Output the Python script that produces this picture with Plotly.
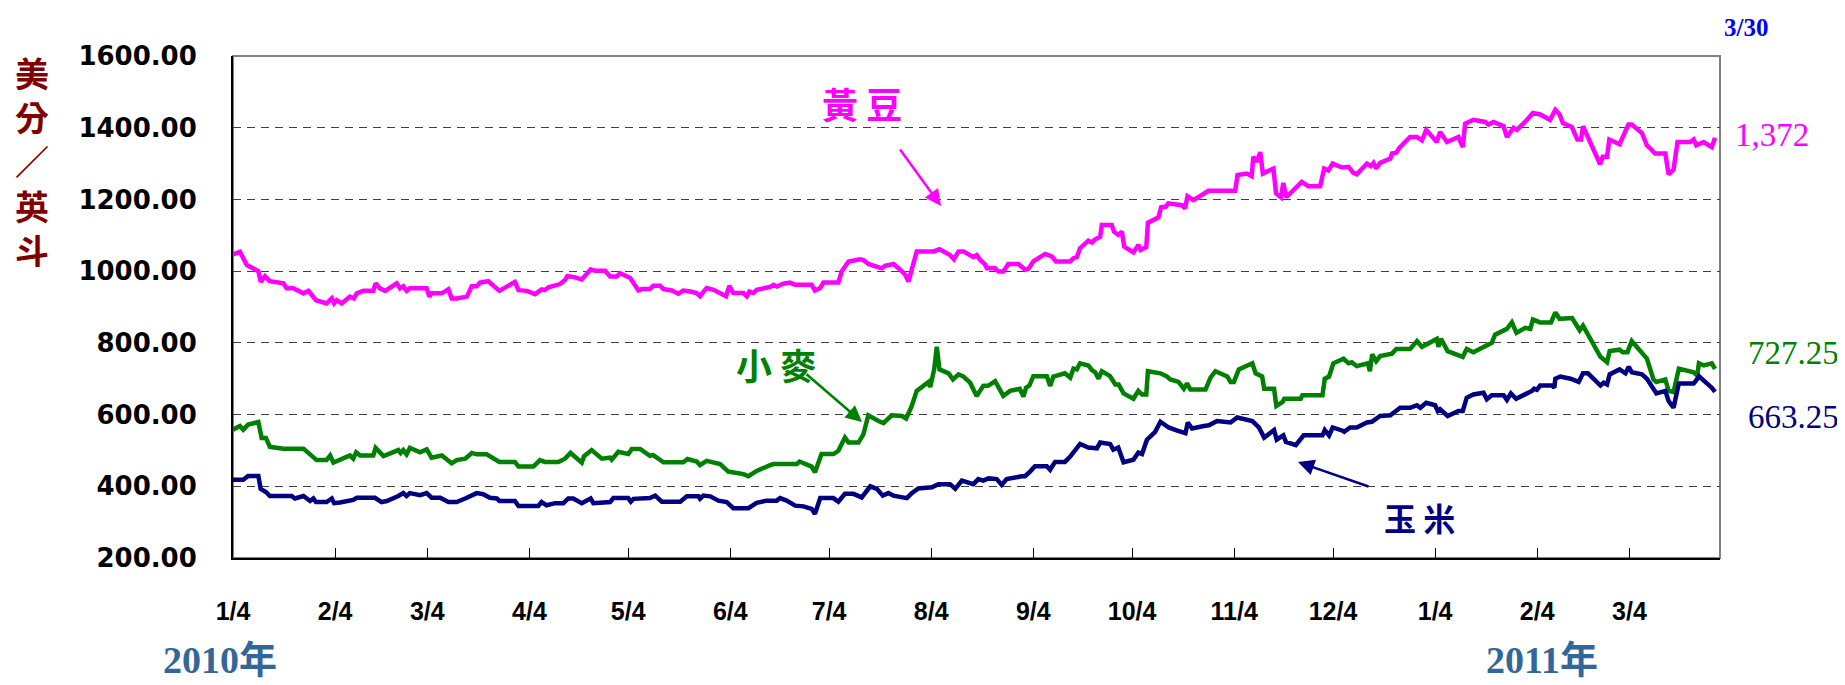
import pandas as pd
import plotly.graph_objects as go

# days counted from 2010-01-04, values in US cents per bushel
START = "2010-01-04"

soy_day = [0, 2.1, 4.2, 7.7, 8.4, 9.7, 11.2, 15.3, 16.3, 18.3, 21.4, 22.9, 25.2, 28.4, 30.0, 30.7, 31.5, 33.0,
           35.5, 36.7, 37.6, 39.6, 42.6, 43.3, 44.6, 46.2, 49.7, 50.7, 51.7, 52.7, 53.7, 58.8, 59.6, 60.3, 63.4,
           65.4, 66.4, 67.9, 71.0, 72.5, 74.0, 75.0, 77.5, 79.1, 80.9, 85.6, 86.7, 89.2, 91.7, 93.7, 94.7, 95.8,
           99.3, 100.8, 101.5, 103.3, 105.9, 108.6, 109.9, 113.0, 114.5, 116.5, 117.5, 120.6, 123.1, 124.1, 126.6,
           127.6, 129.7, 130.7, 133.2, 135.2, 136.7, 138.8, 140.8, 141.8, 143.8, 145.9, 147.9, 149.7, 150.7, 151.9,
           155.0, 156.0, 156.8, 158.0, 159.0, 163.1, 164.1, 165.1, 167.1, 169.1, 170.7, 175.7, 176.7, 178.3, 179.3,
           183.8, 184.8, 186.9, 190.4, 191.4, 192.9, 197.0, 198.0, 200.5, 202.6, 204.1, 205.1, 205.6, 207.6, 212.7,
           214.5, 217.7, 218.9, 220.3, 221.8, 224.8, 225.8, 226.8, 228.4, 228.9, 231.4, 232.4, 233.9, 235.4, 238.5,
           240.5, 241.5, 243.0, 246.6, 248.6, 249.9, 254.2, 255.2, 256.2, 257.2, 259.7, 260.8, 261.8, 263.3, 263.8,
           266.8, 267.5, 268.8, 269.9, 270.6, 273.4, 274.9, 275.6, 277.3, 277.8, 281.0, 281.8, 283.3, 284.0, 288.1,
           289.1, 289.8, 291.6, 294.7, 296.2, 304.3, 305.0, 307.8, 309.3, 309.8, 310.9, 311.9, 312.7, 315.9, 316.7,
           318.2, 318.9, 319.8, 321.5, 324.5, 326.5, 330.1, 331.3, 332.6, 333.9, 336.7, 338.7, 340.2, 341.2, 344.3,
           345.5, 346.3, 347.1, 348.3, 351.4, 351.9, 353.2, 354.2, 357.4, 359.5, 361.0, 362.3, 365.5, 366.5, 368.6,
           372.1, 373.4, 374.1, 376.6, 380.2, 381.2, 382.7, 385.8, 386.8, 388.8, 389.8, 392.3, 394.7, 396.9, 399.9,
           401.5, 402.8, 403.8, 406.5, 408.2, 409.3, 409.9, 415.1, 415.9, 417.2, 417.9, 421.0, 423.7, 424.7, 427.8,
           429.3, 430.1, 431.8, 434.9, 435.9, 437.4, 438.6, 442.5, 443.5, 444.3, 446.5, 449.0, 450.0]
soy_val = [1047, 1054, 1017, 1000, 970, 986, 972, 966, 952, 952, 938, 945, 919, 910, 924, 910, 919, 910,
           929, 924, 938, 945, 945, 966, 952, 945, 966, 952, 958, 945, 952, 952, 929, 938, 938,
           949, 924, 924, 929, 958, 958, 968, 972, 961, 945, 970, 947, 945, 936, 949, 947, 955,
           964, 975, 986, 984, 977, 1005, 1001, 1001, 985, 985, 994, 981, 946, 950, 950,
           959, 959, 950, 946, 937, 946, 943, 939, 930, 953, 948, 939, 930, 959, 939,
           939, 930, 943, 939, 948, 956, 962, 957, 965, 968, 962, 962, 946, 953, 968,
           968, 999, 1027, 1033, 1031, 1020, 1008, 1015, 1020, 1004, 990, 971, 990, 1055, 1055,
           1061, 1045, 1033, 1055, 1055, 1039, 1045, 1032, 1018, 1008, 1008, 999, 999, 1020, 1020,
           1004, 1006, 1027, 1048, 1041, 1027, 1027, 1036, 1039, 1064, 1085, 1080, 1089, 1096, 1129,
           1129, 1110, 1101, 1110, 1068, 1052, 1073, 1059, 1067, 1135, 1150, 1178, 1180, 1189, 1184,
           1175, 1209, 1198, 1215, 1224, 1224, 1268, 1272, 1265, 1319, 1305, 1332, 1272, 1286, 1217,
           1206, 1246, 1206, 1221, 1249, 1237, 1237, 1286, 1281, 1300, 1289, 1291, 1274, 1270, 1300,
           1293, 1302, 1286, 1302, 1314, 1328, 1330, 1344, 1374, 1374, 1365, 1394, 1360, 1388, 1360,
           1374, 1346, 1411, 1422, 1416, 1409, 1416, 1404, 1374, 1400, 1394, 1416, 1441, 1437, 1422,
           1450, 1437, 1413, 1402, 1367, 1367, 1404, 1298, 1319, 1319, 1367, 1354, 1409, 1409, 1385,
           1351, 1344, 1328, 1328, 1270, 1283, 1360, 1360, 1367, 1351, 1360, 1346, 1372]

wheat_day = [0, 2.1, 3.1, 4.6, 7.7, 8.7, 10.0, 11.2, 15.3, 21.4, 23.4, 25.4, 28.4, 29.5, 30.5, 32.5, 35.5,
             36.5, 37.4, 38.6, 42.6, 43.3, 45.7, 50.2, 50.9, 51.7, 52.7, 53.7, 56.8, 58.8, 60.3, 63.4, 66.4,
             67.9, 70.5, 72.5, 74.0, 77.0, 78.0, 80.9, 85.6, 86.7, 91.2, 93.2, 94.7, 98.8, 100.8, 102.5, 105.9,
             106.6, 108.9, 112.0, 114.5, 115.0, 117.0, 120.0, 121.1, 123.6, 126.6, 127.6, 128.7, 130.7, 136.7,
             138.0, 140.8, 141.8, 143.8, 147.9, 150.4, 155.0, 156.5, 159.0, 163.1, 164.1, 171.2, 172.0, 175.7,
             176.7, 178.7, 182.3, 183.8, 185.8, 186.9, 189.9, 191.4, 192.9, 196.0, 197.5, 200.0, 203.1, 204.4,
             206.1, 207.6, 210.1, 211.2, 211.7, 212.9, 213.7, 214.5, 217.3, 218.6, 220.3, 221.8, 223.8, 225.8,
             227.8, 229.4, 231.4, 233.9, 235.9, 238.9, 240.0, 240.8, 241.8, 243.0, 247.1, 248.1, 249.1, 252.6,
             254.2, 255.2, 256.2, 257.2, 259.7, 260.8, 261.8, 262.8, 263.8, 266.3, 267.9, 268.9, 270.4, 273.4,
             274.9, 276.0, 277.3, 277.8, 281.6, 283.6, 284.6, 287.1, 288.7, 289.7, 290.7, 295.3, 296.8, 298.3,
             301.9, 302.9, 303.9, 305.4, 309.5, 310.5, 312.5, 313.1, 316.1, 316.8, 318.7, 319.2, 324.2, 324.7,
             330.8, 331.5, 332.8, 334.1, 337.2, 338.7, 339.7, 341.2, 344.6, 345.2, 345.9, 347.1, 348.3, 351.9,
             353.2, 357.4, 359.5, 361.0, 365.5, 366.0, 366.8, 368.8, 373.4, 374.6, 376.6, 380.7, 382.2, 383.2,
             385.8, 386.8, 388.3, 389.7, 392.4, 393.9, 394.7, 396.9, 400.2, 401.5, 402.8, 406.6, 408.9, 409.9,
             415.2, 417.2, 418.0, 421.0, 422.0, 423.4, 424.7, 427.8, 429.3, 431.3, 432.2, 434.9, 435.9, 437.4,
             439.0, 443.5, 444.6, 445.1, 446.6, 449.0, 450.0]
wheat_val = [558, 568, 558, 572, 579, 535, 535, 510, 505, 505, 489, 473, 473, 486, 466, 473, 486,
             477, 495, 486, 486, 507, 484, 501, 493, 501, 489, 507, 495, 503, 480, 486, 464,
             473, 477, 493, 489, 489, 484, 468, 468, 455, 455, 473, 468, 468, 477, 493, 466,
             484, 501, 477, 480, 474, 496, 490, 504, 504, 485, 487, 480, 467, 467,
             476, 469, 459, 471, 462, 441, 434, 428, 443, 459, 462, 462, 469, 455,
             439, 490, 490, 499, 536, 522, 522, 545, 598, 582, 576, 598, 596, 589,
             624, 666, 684, 691, 677, 726, 789, 726, 715, 698, 712, 706, 689, 652,
             680, 681, 693, 652, 666, 672, 650, 675, 681, 707, 707, 680, 706, 715,
             703, 728, 726, 743, 737, 724, 718, 700, 721, 707, 684, 684, 659, 644,
             666, 656, 656, 721, 715, 706, 698, 691, 672, 687, 670, 670, 703, 721,
             706, 691, 691, 726, 743, 715, 706, 672, 672, 624, 635, 644, 644, 654,
             654, 700, 706, 743, 756, 743, 746, 735, 743, 721, 768, 749, 763, 770,
             783, 783, 805, 789, 811, 789, 811, 777, 761, 783, 774, 795, 800, 823,
             835, 839, 857, 828, 842, 839, 865, 857, 857, 885, 867, 869, 835, 848,
             761, 746, 777, 781, 774, 774, 805, 772, 756, 698, 691, 698, 666, 663,
             728, 718, 709, 743, 737, 743, 727.25]

corn_day = [0, 3.1, 4.6, 7.7, 8.4, 10.0, 11.2, 17.8, 18.8, 21.4, 23.4, 24.4, 25.2, 28.4, 30.0, 30.7, 32.5,
            36.5, 37.6, 43.1, 45.1, 46.7, 50.2, 51.7, 52.7, 53.7, 56.8, 58.8, 60.3, 62.9, 65.4, 67.9, 70.5,
            72.0, 74.0, 76.0, 78.0, 80.1, 80.9, 85.6, 86.7, 92.7, 93.7, 95.2, 97.8, 100.3, 101.8, 103.3, 105.9,
            108.6, 109.4, 111.4, 114.5, 115.5, 120.0, 120.8, 121.6, 126.6, 128.2, 130.2, 135.8, 137.8, 141.3,
            141.8, 142.8, 144.9, 147.4, 149.9, 151.9, 156.5, 159.0, 162.0, 165.1, 166.1, 168.1, 170.7, 173.2,
            175.7, 176.7, 178.3, 182.3, 183.8, 185.8, 188.4, 190.9, 193.5, 195.5, 197.3, 199.0, 200.5, 204.6,
            206.1, 208.1, 212.2, 214.2, 217.7, 219.3, 221.3, 223.8, 224.8, 226.3, 227.8, 229.4, 231.9, 233.4,
            234.9, 239.5, 240.5, 242.0, 243.5, 247.1, 248.1, 249.6, 252.6, 254.2, 255.2, 257.2, 259.7, 262.3,
            263.3, 266.3, 267.3, 268.8, 270.4, 273.4, 274.9, 276.0, 277.5, 280.0, 281.6, 284.1, 286.7, 289.2,
            289.9, 291.2, 294.8, 296.3, 298.8, 301.4, 302.9, 304.9, 306.9, 309.5, 311.5, 313.1, 316.1, 316.9,
            318.9, 319.7, 322.7, 325.1, 330.8, 331.5, 332.8, 333.9, 336.9, 337.4, 339.2, 341.2, 344.3, 345.8,
            348.3, 351.4, 354.4, 357.4, 359.5, 360.5, 362.3, 365.0, 365.8, 366.5, 368.8, 372.1, 373.4, 374.6,
            376.6, 379.7, 380.7, 382.2, 385.8, 386.8, 388.0, 389.6, 394.4, 395.1, 395.9, 396.9, 400.5, 401.2,
            401.5, 403.0, 406.1, 408.6, 409.9, 411.4, 415.2, 416.2, 417.2, 418.0, 421.0, 422.8, 423.8, 424.7,
            427.8, 429.3, 432.2, 434.9, 435.9, 437.4, 439.0, 443.5, 444.1, 445.1, 449.0, 450.0]
corn_val = [418, 418, 429, 429, 393, 384, 373, 373, 366, 373, 359, 366, 356, 356, 366, 353, 355,
            362, 368, 368, 356, 359, 373, 381, 373, 381, 375, 381, 368, 368, 356, 356, 366,
            371, 381, 378, 368, 366, 359, 359, 345, 345, 356, 347, 353, 353, 366, 366, 353,
            366, 353, 354, 356, 367, 367, 357, 365, 367, 374, 357, 357, 372, 372,
            365, 374, 372, 360, 356, 339, 339, 354, 360, 360, 367, 360, 346, 344,
            337, 323, 367, 367, 357, 379, 379, 369, 400, 393, 374, 381, 374, 367,
            381, 394, 397, 406, 406, 393, 416, 411, 406, 420, 416, 422, 420, 404,
            420, 428, 428, 441, 456, 456, 446, 468, 468, 483, 494, 518, 508, 506,
            522, 518, 502, 508, 467, 474, 494, 490, 530, 552, 580, 564, 555, 548,
            578, 561, 568, 570, 582, 578, 578, 592, 589, 582, 564, 536, 557, 530,
            542, 524, 515, 542, 542, 557, 542, 564, 555, 552, 564, 564, 578, 580,
            596, 598, 619, 619, 626, 619, 633, 626, 610, 615, 596, 610, 610, 647,
            656, 661, 643, 654, 654, 641, 659, 644, 666, 672, 669, 681, 681, 675,
            700, 706, 700, 691, 715, 715, 681, 689, 684, 712, 726, 715, 733, 718,
            712, 700, 659, 666, 638, 619, 687, 687, 693, 707, 675, 663.25]

tick_dates = ["2010-01-04", "2010-02-04", "2010-03-04", "2010-04-04", "2010-05-04", "2010-06-04",
              "2010-07-04", "2010-08-04", "2010-09-04", "2010-10-04", "2010-11-04", "2010-12-04",
              "2011-01-04", "2011-02-04", "2011-03-04"]
tick_labels = ["1/4", "2/4", "3/4", "4/4", "5/4", "6/4", "7/4", "8/4", "9/4", "10/4", "11/4", "12/4",
               "1/4", "2/4", "3/4"]

SOY_C, WHEAT_C, CORN_C = "#FF00FF", "#008000", "#000080"

# page has an 8px body margin, so the figure is a bit smaller and shifted
OFF = 8
W, H = 1837, 677
L, R, T, B = 225, 125, 48, 127


def px(x, y):
    # page pixel -> paper coords
    fx, fy = x - OFF, y - OFF
    return (fx - L) / (W - L - R), (H - B - fy) / (H - T - B)


def as_dates(days):
    return pd.Timestamp(START) + pd.to_timedelta(days, unit="D")


fig = go.Figure()
for days, vals, col, name in [(soy_day, soy_val, SOY_C, "黃豆"),
                              (wheat_day, wheat_val, WHEAT_C, "小麥"),
                              (corn_day, corn_val, CORN_C, "玉米")]:
    fig.add_trace(go.Scatter(x=as_dates(days), y=vals, mode="lines", name=name,
                             line=dict(color=col, width=4.5), hoverinfo="skip"))

fig.update_layout(
    width=W, height=H,
    margin=dict(l=L, r=R, t=T, b=B),
    plot_bgcolor="white", paper_bgcolor="white",
    showlegend=False,
    xaxis=dict(range=[as_dates(0), as_dates(451.5)], tickvals=tick_dates, ticktext=tick_labels,
               showgrid=False, zeroline=False, showline=True, linecolor="black", linewidth=2,
               ticks="inside", ticklen=10, tickcolor="black", tickwidth=1, ticklabelstandoff=30,
               tickfont=dict(family="Liberation Sans, Arial", size=25, color="black", weight="bold")),
    yaxis=dict(range=[200, 1600], dtick=200, tickformat=".2f",
               showgrid=True, gridcolor="#404040", gridwidth=1, griddash="8px,6px",
               zeroline=False, showline=True, linecolor="black", linewidth=2,
               ticks="outside", ticklen=0, ticklabelstandoff=29,
               tickfont=dict(family="DejaVu Sans", size=26, color="black", weight="bold")),
)

# grey frame on top/right
fig.add_shape(type="rect", xref="paper", yref="paper", x0=0, y0=0, x1=1, y1=1,
              line=dict(color="#808080", width=2), layer="below")

ann = []
cjk = "Noto Sans CJK TC"
P = dict(xref="paper", yref="paper", xanchor="center", yanchor="middle")

# y title, stacked
x, y = px(32, 161)
ann.append(dict(x=x, y=y, text="美<br>分<br>／<br>英<br>斗", showarrow=False, **P,
                font=dict(family=cjk, size=34, color="#800000", weight="bold")))

# series names
for (cx, cy), txt, col, sz in [((862, 103), "黃 豆", SOY_C, 36),
                               ((776, 364), "小 麥", WHEAT_C, 36),
                               ((1419, 517), "玉 米", CORN_C, 32)]:
    x, y = px(cx, cy)
    ann.append(dict(x=x, y=y, text=txt, showarrow=False, **P,
                    font=dict(family=cjk, size=sz, color=col, weight="bold")))

# arrows
for (hx, hy), (tx, ty), col in [((941, 206), (899, 148), SOY_C),
                                ((862, 422), (805, 373), WHEAT_C),
                                ((1298, 462), (1370, 487), CORN_C)]:
    x, y = px(hx, hy)
    ann.append(dict(x=x, y=y, text="", showarrow=True, ax=tx - hx, ay=ty - hy, **P,
                    arrowhead=2, arrowsize=1.3, arrowwidth=2.5, arrowcolor=col, standoff=0))

# last values (right edges)
for (rx, ry), txt, col in [((1811, 135), "1,372", SOY_C),
                           ((1841, 353), "727.25", WHEAT_C),
                           ((1841, 417), "663.25", CORN_C)]:
    x, y = px(rx, ry)
    ann.append(dict(x=x, y=y, text=txt, showarrow=False, xref="paper", yref="paper",
                    xanchor="right", yanchor="middle",
                    font=dict(family="Liberation Serif, Times New Roman", size=33, color=col)))

x, y = px(1746, 27)
ann.append(dict(x=x, y=y, text="3/30", showarrow=False, **P,
                font=dict(family="Liberation Serif", size=25, color="#0000FF", weight="bold")))

# years
for cx, txt in [(220, "2010年"), (1542, "2011年")]:
    x, y = px(cx, 660)
    ann.append(dict(x=x, y=y, text=txt, showarrow=False, **P,
                    font=dict(family="Liberation Serif, Noto Sans CJK TC", size=38,
                              color="#336699", weight="bold")))

fig.update_layout(annotations=ann)
fig.write_html("out.html")
